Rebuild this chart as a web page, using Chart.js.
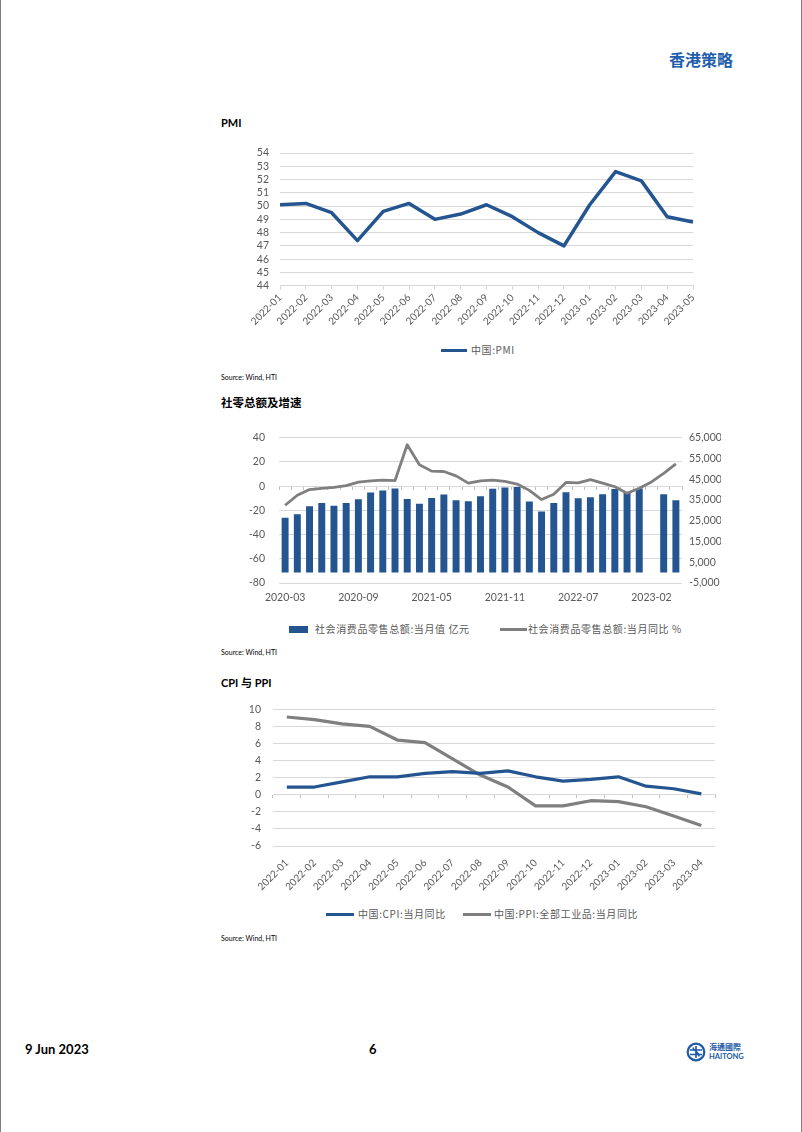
<!DOCTYPE html>
<html>
<head>
<meta charset="utf-8">
<script src="https://cdn.jsdelivr.net/npm/chart.js@4.4.0/dist/chart.umd.min.js"></script>
<style>
html, body { margin: 0; padding: 0; background: #fff; }
#page { position: relative; width: 800px; height: 1132px; border-left: 1px solid #808080; border-right: 1px solid #808080; overflow: hidden; font-family: Lato, "Noto Sans CJK SC", sans-serif; }
.abs { position: absolute; white-space: nowrap; line-height: 1; }
.title { font-weight: bold; font-size: 11px; color: #000; }
.src { font-size: 7px; color: #000; }
.leg { font-family: "Noto Sans CJK SC", sans-serif; font-size: 10px; color: #595959; letter-spacing: 0.6px; }
canvas { position: absolute; }
</style>
</head>
<body>
<div id="page">
  <div class="abs" style="left:668px;top:51px;font-size:16px;font-weight:bold;color:#1f5fae;font-family:'Noto Sans CJK SC',sans-serif;">香港策略</div>

  <!-- PMI -->
  <div class="abs title" style="left:220px;top:117px;">PMI</div>
  <canvas id="pmi" width="475" height="195" style="left:230px;top:140px;"></canvas>
  <div class="abs" style="left:440px;top:349px;width:26px;height:3px;background:#255591;"></div>
  <div class="abs leg" style="left:470px;top:345px;">中国:PMI</div>
  <div class="abs src" style="left:220px;top:374px;">Source: Wind, HTI</div>

  <!-- 社零 -->
  <div class="abs title" style="left:220px;top:397px;font-size:11.5px;font-family:'Noto Sans CJK SC',sans-serif;">社零总额及增速</div>
  <canvas id="retail" width="500" height="185" style="left:220px;top:425px;"></canvas>
  <div class="abs" style="left:288px;top:626px;width:19px;height:7px;background:#255591;"></div>
  <div class="abs leg" style="left:314px;top:624px;">社会消费品零售总额:当月值 亿元</div>
  <div class="abs" style="left:499px;top:628px;width:27px;height:3px;background:#7f7f7f;"></div>
  <div class="abs leg" style="left:527px;top:624px;">社会消费品零售总额:当月同比 %</div>
  <div class="abs src" style="left:220px;top:649px;">Source: Wind, HTI</div>

  <!-- CPI / PPI -->
  <div class="abs title" style="left:220px;top:677px;">CPI 与 PPI</div>
  <canvas id="cpi" width="500" height="200" style="left:220px;top:695px;"></canvas>
  <div class="abs" style="left:325px;top:913px;width:28px;height:3px;background:#255591;"></div>
  <div class="abs leg" style="left:357px;top:909px;">中国:CPI:当月同比</div>
  <div class="abs" style="left:462px;top:913px;width:28px;height:3px;background:#7f7f7f;"></div>
  <div class="abs leg" style="left:493px;top:909px;">中国:PPI:全部工业品:当月同比</div>
  <div class="abs src" style="left:220px;top:935px;">Source: Wind, HTI</div>

  <!-- footer -->
  <div class="abs" style="left:24px;top:1043px;font-size:13px;font-weight:bold;color:#000;">9 Jun 2023</div>
  <div class="abs" style="left:368px;top:1043px;font-size:13px;font-weight:bold;color:#000;">6</div>
  <svg class="abs" style="left:685px;top:1042px;" width="20" height="20" viewBox="0 0 20 20">
    <circle cx="10" cy="10" r="8.3" fill="none" stroke="#1d5aa6" stroke-width="2.2"/>
    <path d="M4 8 H16 M4 12.5 H16 M10 4 V16 M7 5.5 C7 9 13 9 13 14.5" fill="none" stroke="#1d5aa6" stroke-width="1.6"/>
  </svg>
  <div class="abs" style="left:708px;top:1043px;font-size:8px;font-weight:bold;color:#1d5aa6;font-family:'Noto Sans CJK TC',sans-serif;">海通國際</div>
  <div class="abs" style="left:708px;top:1053px;font-size:7.5px;font-weight:bold;color:#1d5aa6;">HAITONG</div>
</div>

<script>
// PMI
var pmiMonths = ['2022-01', '2022-02', '2022-03', '2022-04', '2022-05', '2022-06', '2022-07', '2022-08', '2022-09',
                 '2022-10', '2022-11', '2022-12', '2023-01', '2023-02', '2023-03', '2023-04', '2023-05'];
var pmiValues = [50.1, 50.2, 49.5, 47.4, 49.6, 50.2, 49.0, 49.4, 50.1, 49.2, 48.0, 47.0, 50.1, 52.6, 51.9, 49.2, 48.8];

// 社零 (当月值 亿元 / 当月同比 %)
var retailMonths = ['2020-03', '2020-04', '2020-05', '2020-06', '2020-07', '2020-08', '2020-09', '2020-10', '2020-11', '2020-12',
                    '2021-03', '2021-04', '2021-05', '2021-06', '2021-07', '2021-08', '2021-09', '2021-10', '2021-11', '2021-12',
                    '2022-03', '2022-04', '2022-05', '2022-06', '2022-07', '2022-08', '2022-09', '2022-10', '2022-11', '2022-12',
                    '2023-02', '2023-03', '2023-04'];
var retailValues = [26450, 28178, 31973, 33526, 32203, 33571, 35295, 38576, 39514, 40566,
                    35484, 33153, 35945, 37586, 34925, 34395, 36833, 40454, 41043, 41269,
                    34233, 29483, 33547, 38742, 35870, 36258, 37745, 40271, 38615, 40542,
                    null, 37715, 34910];
var retailYoy = [-15.8, -7.5, -2.8, -1.8, -1.1, 0.5, 3.3, 4.3, 5.0, 4.6,
                 34.2, 17.7, 12.4, 12.1, 8.5, 2.5, 4.4, 4.9, 3.9, 1.7,
                 -3.5, -11.1, -6.7, 3.1, 2.7, 5.4, 2.5, -0.5, -5.9, -1.8,
                 3.5, 10.6, 18.4];

// CPI / PPI
var cpiMonths = ['2022-01', '2022-02', '2022-03', '2022-04', '2022-05', '2022-06', '2022-07', '2022-08',
                 '2022-09', '2022-10', '2022-11', '2022-12', '2023-01', '2023-02', '2023-03', '2023-04'];
var cpiYoy = [0.9, 0.9, 1.5, 2.1, 2.1, 2.5, 2.7, 2.5, 2.8, 2.1, 1.6, 1.8, 2.1, 1.0, 0.7, 0.1];
var ppiYoy = [9.1, 8.8, 8.3, 8.0, 6.4, 6.1, 4.2, 2.3, 0.9, -1.3, -1.3, -0.7, -0.8, -1.4, -2.5, -3.6];

var BLUE = '#255591';
var GREY = '#7f7f7f';
var GRID = '#d9d9d9';
var NONE = 'rgba(0,0,0,0)';

Chart.defaults.font.family = 'Lato, "Noto Sans CJK SC", sans-serif';
Chart.defaults.color = '#595959';
Chart.defaults.animation = false;

var tickFont = { size: 10.5 };

// y axes: gap between labels and plot made with an invisible tick mark,
// so ticks.padding does not push the plot top down
function yGrid(gap, onArea) {
    return { color: GRID, drawOnChartArea: onArea, drawTicks: true, tickLength: gap, tickColor: NONE };
}

new Chart(document.getElementById('pmi'), {
    type: 'line',
    data: {
	labels: pmiMonths,
	datasets: [{
	    label: '中国:PMI',
	    data: pmiValues,
	    borderColor: BLUE,
	    borderWidth: 3.5,
	    borderJoinStyle: 'round',
	    pointRadius: 0,
	    tension: 0
	}]
    },
    options: {
	responsive: false,
	layout: { padding: { top: 13, right: 13, left: 0, bottom: 0 } },
	plugins: { legend: { display: false }, tooltip: { enabled: false } },
	scales: {
	    x: {
		offset: false,
		grid: { drawOnChartArea: false, tickLength: 4, color: GRID },
		border: { color: GRID },
		ticks: { autoSkip: false, minRotation: 45, maxRotation: 45, padding: 2, font: { size: 10 } },
		afterFit: function (s) { s.height = 49.3; }
	    },
	    y: {
		min: 44,
		max: 54,
		ticks: { stepSize: 1, autoSkip: false, padding: 0, font: tickFont },
		grid: yGrid(11, true),
		border: { display: false },
		afterFit: function (s) { s.width = 49; }
	    }
	}
    }
});

new Chart(document.getElementById('retail'), {
    type: 'bar',
    data: {
	labels: retailMonths,
	datasets: [{
	    type: 'line',
	    label: '社会消费品零售总额:当月同比 %',
	    data: retailYoy,
	    yAxisID: 'y',
	    borderColor: GREY,
	    borderWidth: 2.8,
	    borderJoinStyle: 'round',
	    pointRadius: 0,
	    tension: 0,
	    order: 0
	}, {
	    type: 'bar',
	    label: '社会消费品零售总额:当月值 亿元',
	    data: retailValues,
	    yAxisID: 'y1',
	    backgroundColor: BLUE,
	    categoryPercentage: 1,
	    barPercentage: 0.57,
	    order: 1
	}]
    },
    options: {
	responsive: false,
	layout: { padding: { top: 12.7, right: 0, left: 0, bottom: 0 } },
	plugins: { legend: { display: false }, tooltip: { enabled: false } },
	scales: {
	    x: {
		offset: true,
		grid: { display: false, drawTicks: false },
		border: { display: false },
		ticks: {
		    autoSkip: false, maxRotation: 0, minRotation: 0, padding: 8, font: tickFont,
		    callback: function (v, i) { return i % 6 === 0 ? this.getLabelForValue(v) : ''; }
		},
		afterFit: function (s) { s.height = 27; }
	    },
	    x2: {
		type: 'category',
		axis: 'x',
		labels: retailMonths,
		position: { y: 0 },
		offset: true,
		grid: { offset: true, drawOnChartArea: false, tickLength: 3, color: '#bfbfbf' },
		border: { color: GRID },
		ticks: { display: false }
	    },
	    y: {
		position: 'left',
		min: -80,
		max: 40,
		ticks: { stepSize: 20, autoSkip: false, padding: 0, font: tickFont },
		grid: yGrid(14, true),
		border: { display: false },
		afterFit: function (s) { s.width = 58; }
	    },
	    y1: {
		position: 'right',
		min: -5000,
		max: 65000,
		ticks: {
		    stepSize: 10000, autoSkip: false, padding: 0, font: tickFont,
		    callback: function (v) { return v.toLocaleString('en-US'); }
		},
		grid: yGrid(7, false),
		border: { display: false },
		afterFit: function (s) { s.width = 39; }
	    }
	}
    }
});

new Chart(document.getElementById('cpi'), {
    type: 'line',
    data: {
	labels: cpiMonths,
	datasets: [{
	    label: '中国:CPI:当月同比',
	    data: cpiYoy,
	    borderColor: BLUE,
	    borderWidth: 3.2,
	    borderJoinStyle: 'round',
	    pointRadius: 0,
	    tension: 0
	}, {
	    label: '中国:PPI:全部工业品:当月同比',
	    data: ppiYoy,
	    borderColor: GREY,
	    borderWidth: 3.2,
	    borderJoinStyle: 'round',
	    pointRadius: 0,
	    tension: 0
	}]
    },
    options: {
	responsive: false,
	layout: { padding: { top: 14.3, right: 5, left: 0, bottom: 0 } },
	plugins: { legend: { display: false }, tooltip: { enabled: false } },
	scales: {
	    x: {
		offset: true,
		grid: { display: false, drawTicks: false },
		border: { display: false },
		ticks: { autoSkip: false, minRotation: 45, maxRotation: 45, padding: 11, font: { size: 10 } },
		afterFit: function (s) { s.height = 49; }
	    },
	    x2: {
		type: 'category',
		axis: 'x',
		labels: cpiMonths,
		position: { y: 0 },
		offset: true,
		grid: { offset: true, drawOnChartArea: false, tickLength: 3, color: '#bfbfbf' },
		border: { color: GRID },
		ticks: { display: false }
	    },
	    y: {
		min: -6,
		max: 10,
		ticks: { stepSize: 2, autoSkip: false, padding: 0, font: tickFont },
		grid: yGrid(12, true),
		border: { display: false },
		afterFit: function (s) { s.width = 52; }
	    }
	}
    }
});
</script>
</body>
</html>
